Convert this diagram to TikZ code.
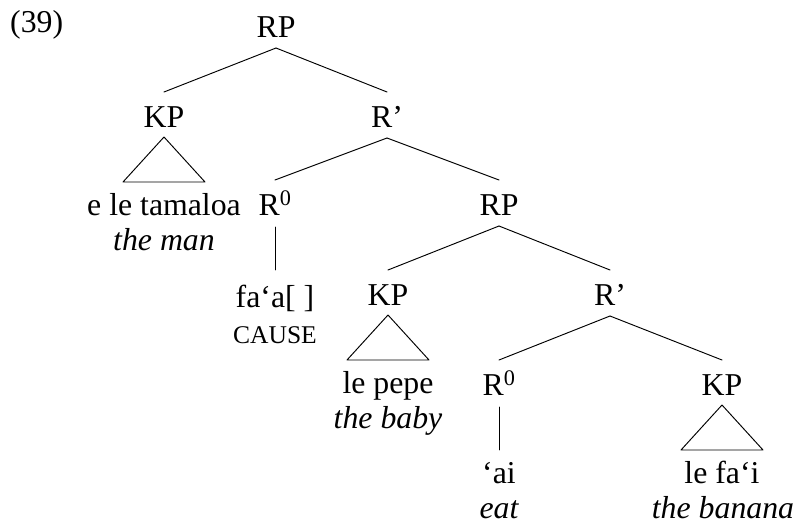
\documentclass[tikz,border=0pt]{standalone}
\usepackage{fontspec}
\setmainfont{Liberation Serif}
\usetikzlibrary{calc}
\newcommand\treefont{\fontsize{31.8}{36}\selectfont}
\newcommand\capsfont{\fontsize{25.5}{30}\selectfont}
\tikzset{
  lab/.style={anchor=base, inner sep=0pt, font=\treefont},
  gloss/.style={anchor=base, inner sep=0pt, font=\treefont\itshape},
  caps/.style={anchor=base, inner sep=0pt, font=\capsfont},
  edge/.style={line width=0.95pt, line cap=round, line join=round},
}
\newcommand\branch[2]{\draw[edge] ($(#1.base)+(0,11)$) -- ($(#2.base)+(0,-35)$);}
\newcommand\tri[1]{\draw[edge] ($(#1.base)+(0,10)$) -- ($(#1.base)+(-41,55)$) -- ($(#1.base)+(41,55)$) -- cycle;}
\newcommand\stem[1]{\draw[edge] ($(#1.base)+(0.3,12)$) -- ($(#1.base)+(0.3,55)$);}
\begin{document}
\begin{tikzpicture}[x=1pt,y=-1pt]
\useasboundingbox (0,0) rectangle (795,525);
\node[lab, anchor=base west] (ex) at (10,32) {(39)};
\node[lab] (rp1) at (276,37) {RP};
\node[lab] (kp1) at (164,127) {KP};
\node[lab] (rb1) at (387,127) {R’};
\node[lab] (t1) at (164,215) {e le tamaloa};
\node[gloss] (g1) at (164,250) {the man};
\node[lab] (r01) at (275,215) {R\textsuperscript{0}};
\node[lab] (faa) at (275,307) {fa‘a[ ]};
\node[caps] (cause) at (275,343) {CAUSE};
\node[lab] (rp2) at (499,215) {RP};
\node[lab] (kp2) at (388,305) {KP};
\node[lab] (rb2) at (610,305) {R’};
\node[lab] (pepe) at (388,393) {le pepe};
\node[gloss] (baby) at (388,428) {the baby};
\node[lab] (r02) at (499,395) {R\textsuperscript{0}};
\node[lab] (kp3) at (722,395) {KP};
\node[lab] (ai) at (499,483) {‘ai};
\node[gloss] (eat) at (499,518) {eat};
\node[lab] (fai) at (722,483) {le fa‘i};
\node[gloss] (banana) at (723,518) {the banana};
\branch{rp1}{kp1}
\branch{rp1}{rb1}
\tri{kp1}
\branch{rb1}{r01}
\branch{rb1}{rp2}
\stem{r01}
\branch{rp2}{kp2}
\branch{rp2}{rb2}
\tri{kp2}
\branch{rb2}{r02}
\branch{rb2}{kp3}
\stem{r02}
\tri{kp3}
\end{tikzpicture}
\end{document}
